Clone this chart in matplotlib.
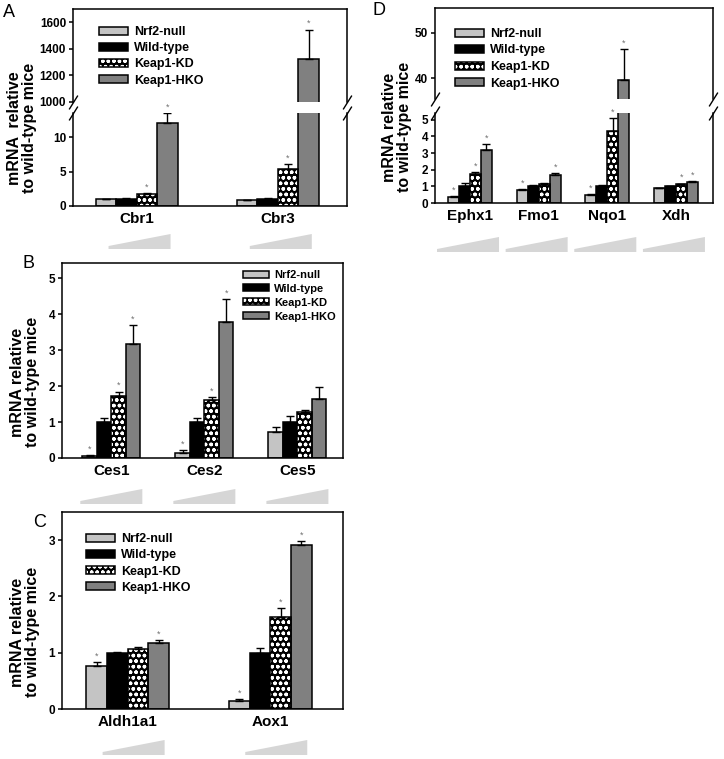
import matplotlib
matplotlib.use("Agg")
import matplotlib.pyplot as plt
import numpy as np
from matplotlib.patches import Patch, Polygon
from matplotlib.transforms import IdentityTransform

plt.rcParams['font.family'] = ['Liberation Sans', 'DejaVu Sans']
plt.rcParams['hatch.linewidth'] = 1.0

# ---------------- data ----------------
series = ['Nrf2-null', 'Wild-type', 'Keap1-KD', 'Keap1-HKO']

genes_A = ['Cbr1', 'Cbr3']
A_nrf2 = [0.98, 0.8];  A_nrf2_err = [0.1, 0.1]
A_wt   = [1.0, 1.0];   A_wt_err   = [0.15, 0.12]
A_kd   = [1.8, 5.4];   A_kd_err   = [0.12, 0.7]
A_hko  = [12.1, 1320]; A_hko_err  = [1.4, 225]
A_sig  = [[0, 0], [0, 0], [1, 1], [1, 1]]

genes_B = ['Ces1', 'Ces2', 'Ces5']
B_nrf2 = [0.05, 0.15, 0.72]; B_nrf2_err = [0.02, 0.07, 0.13]
B_wt   = [1.0, 1.0, 1.0];    B_wt_err   = [0.1, 0.1, 0.17]
B_kd   = [1.72, 1.62, 1.27]; B_kd_err   = [0.13, 0.07, 0.07]
B_hko  = [3.18, 3.8, 1.65];  B_hko_err  = [0.52, 0.62, 0.33]
B_sig  = [[1, 1, 0], [0, 0, 0], [1, 1, 0], [1, 1, 0]]

genes_C = ['Aldh1a1', 'Aox1']
C_nrf2 = [0.77, 0.15]; C_nrf2_err = [0.06, 0.03]
C_wt   = [1.0, 1.0];   C_wt_err   = [0.01, 0.09]
C_kd   = [1.07, 1.63]; C_kd_err   = [0.04, 0.17]
C_hko  = [1.17, 2.91]; C_hko_err  = [0.05, 0.07]
C_sig  = [[1, 1], [0, 0], [0, 1], [1, 1]]

genes_D = ['Ephx1', 'Fmo1', 'Nqo1', 'Xdh']
D_nrf2 = [0.35, 0.8, 0.5, 0.9];    D_nrf2_err = [0.05, 0.04, 0.05, 0.03]
D_wt   = [1.0, 1.05, 1.02, 1.0];   D_wt_err   = [0.2, 0.03, 0.05, 0.03]
D_kd   = [1.75, 1.15, 4.35, 1.12]; D_kd_err   = [0.1, 0.05, 0.75, 0.05]
D_hko  = [3.2, 1.7, 39.7, 1.28];   D_hko_err  = [0.32, 0.1, 6.7, 0.05]
D_sig  = [[1, 1, 1, 0], [0, 0, 0, 0], [1, 0, 1, 1], [1, 1, 1, 1]]

# ---------------- style ----------------
W, H = 724, 759
fig = plt.figure(figsize=(W / 100, H / 100), dpi=100)

face = ['#c4c4c4', '#000000', '#000000', '#808080']
LW = 1.1


def box(l, t, r, b):
    return [l / W, 1 - b / H, (r - l) / W, (b - t) / H]


def style_axis(ax, top=True, bottom=True):
    for s in ax.spines.values():
        s.set_linewidth(LW)
    ax.spines['top'].set_visible(top)
    ax.spines['bottom'].set_visible(bottom)
    ax.tick_params(axis='y', direction='out', length=3, width=LW, pad=2,
                   labelsize=8.5, right=False)
    ax.tick_params(axis='x', length=0)
    for lab in ax.get_yticklabels():
        lab.set_fontweight('bold')


def draw_bars(ax, genes, vals, errs, sigs, width, show_star=True):
    x = np.arange(len(genes))
    offs = (np.arange(4) - 1.5) * width
    for i in range(4):
        xi = x + offs[i]
        if i == 2:
            ax.bar(xi, vals[i], width, color='black', edgecolor='white',
                   hatch='ooo', linewidth=0, zorder=2)
            ax.bar(xi, vals[i], width, color='none', edgecolor='black',
                   linewidth=LW, zorder=3)
        else:
            ax.bar(xi, vals[i], width, color=face[i], edgecolor='black',
                   linewidth=LW, zorder=2)
        ax.errorbar(xi, vals[i], yerr=[np.zeros(len(genes)), errs[i]],
                    fmt='none', ecolor='black', elinewidth=1.0, capsize=3,
                    capthick=1.0, zorder=4)
        if show_star:
            for xx, v, e, s in zip(xi, vals[i], errs[i], sigs[i]):
                if s:
                    ax.annotate('*', (xx, v + e), xytext=(0, 1),
                                textcoords='offset points', ha='center',
                                va='bottom', fontsize=6.5, color='#707070',
                                annotation_clip=True, zorder=5)
    return x


def wedges(ax, ngroups, y_top, y_bot, left_px=-28, right_px=34):
    for c in range(ngroups):
        xc = ax.transData.transform((c, 0))[0]
        x0, x1 = xc + left_px, xc + right_px
        yb = H - y_bot
        yt = H - y_top
        poly = Polygon([(x0, yb), (x0, yb + 3), (x1, yt), (x1, yb)],
                       closed=True, facecolor='#d6d6d6', edgecolor='none',
                       transform=IdentityTransform(), clip_on=False)
        fig.patches.append(poly)


def set_cats(ax, genes, size=11):
    ax.set_xticks(np.arange(len(genes)))
    ax.set_xticklabels(genes, fontsize=size, fontweight='bold')
    ax.tick_params(axis='x', pad=4)


def legend(ax, x_px, y_px, size, spacing):
    handles = [Patch(facecolor=face[0], edgecolor='black', linewidth=LW),
               Patch(facecolor=face[1], edgecolor='black', linewidth=LW),
               (Patch(facecolor='black', edgecolor='white', hatch='ooo', linewidth=0),
                Patch(facecolor='none', edgecolor='black', linewidth=LW)),
               Patch(facecolor=face[3], edgecolor='black', linewidth=LW)]
    leg = ax.legend(handles, series, loc='upper left',
                    bbox_to_anchor=(x_px / W, 1 - y_px / H),
                    bbox_transform=fig.transFigure, frameon=False,
                    handlelength=2.3, handleheight=0.6, labelspacing=spacing,
                    handletextpad=0.5, borderpad=0, borderaxespad=0,
                    prop={'size': size, 'weight': 'bold'})
    return leg


def break_marks(ax, where):
    y = 0 if where == 'bottom' else 1
    ax.plot([0, 1], [y, y], transform=ax.transAxes, linestyle='none',
            marker=[(-1, -1.6), (1, 1.6)], markersize=10, color='black',
            mec='black', mew=1.0, clip_on=False, zorder=10)


def ylab(text, x_px, y_px):
    fig.text(x_px / W, 1 - y_px / H, text, rotation=90, ha='center',
             va='center', fontsize=11.5, fontweight='bold', linespacing=1.05)


# ---------------- Panel A ----------------
wA = 0.145
axA_up = fig.add_axes(box(73, 9, 347, 102))
axA_lo = fig.add_axes(box(73, 113, 347, 206))
for ax, lims in ((axA_up, (1000, 1700)), (axA_lo, (0, 13.5))):
    draw_bars(ax, genes_A, [A_nrf2, A_wt, A_kd, A_hko],
              [A_nrf2_err, A_wt_err, A_kd_err, A_hko_err], A_sig, wA)
    ax.set_xlim(-0.45, 1.49)
    ax.set_ylim(*lims)
axA_up.set_yticks([1000, 1200, 1400, 1600])
axA_lo.set_yticks([0, 5, 10])
axA_up.set_xticks([])
set_cats(axA_lo, genes_A)
style_axis(axA_up, top=True, bottom=False)
style_axis(axA_lo, top=False, bottom=True)
break_marks(axA_up, 'bottom')
break_marks(axA_lo, 'top')
legend(axA_up, 99, 26, 9, 0.34)
wedges(axA_lo, 2, 234, 249)
ylab('mRNA  relative\nto wild-type mice', 22, 128)
fig.text(3 / W, 1 - 4 / H, 'A', fontsize=13, va='top', ha='left')

# ---------------- Panel D ----------------
wD = 0.16
axD_up = fig.add_axes(box(435, 8, 713, 99))
axD_lo = fig.add_axes(box(435, 113, 713, 203))
for ax, lims in ((axD_up, (35.5, 55.4)), (axD_lo, (0, 5.4))):
    draw_bars(ax, genes_D, [D_nrf2, D_wt, D_kd, D_hko],
              [D_nrf2_err, D_wt_err, D_kd_err, D_hko_err], D_sig, wD)
    ax.set_xlim(-0.51, 3.54)
    ax.set_ylim(*lims)
axD_up.set_yticks([40, 50])
axD_lo.set_yticks([0, 1, 2, 3, 4, 5])
axD_up.set_xticks([])
set_cats(axD_lo, genes_D)
style_axis(axD_up, top=True, bottom=False)
style_axis(axD_lo, top=False, bottom=True)
break_marks(axD_up, 'bottom')
break_marks(axD_lo, 'top')
legend(axD_up, 455, 28, 9, 0.36)
wedges(axD_lo, 4, 237, 252, left_px=-33, right_px=29)
ylab('mRNA relative\nto wild-type mice', 397, 127)
fig.text(372 / W, 1 - 2 / H, 'D', fontsize=13, va='top', ha='left')

# ---------------- Panel B ----------------
wB = 0.156
axB = fig.add_axes(box(62, 263, 343, 458))
draw_bars(axB, genes_B, [B_nrf2, B_wt, B_kd, B_hko],
          [B_nrf2_err, B_wt_err, B_kd_err, B_hko_err], B_sig, wB)
axB.set_xlim(-0.53, 2.49)
axB.set_ylim(0, 5.43)
axB.set_yticks([0, 1, 2, 3, 4, 5])
set_cats(axB, genes_B)
style_axis(axB)
legend(axB, 243, 270, 8, 0.35)
wedges(axB, 3, 489, 504, left_px=-31, right_px=31)
ylab('mRNA relative\nto wild-type mice', 25, 382)
fig.text(23 / W, 1 - 255 / H, 'B', fontsize=13, va='top', ha='left')

# ---------------- Panel C ----------------
wC = 0.145
axC = fig.add_axes(box(62, 512, 343, 709))
draw_bars(axC, genes_C, [C_nrf2, C_wt, C_kd, C_hko],
          [C_nrf2_err, C_wt_err, C_kd_err, C_hko_err], C_sig, wC)
axC.set_xlim(-0.46, 1.51)
axC.set_ylim(0, 3.5)
axC.set_yticks([0, 1, 2, 3])
set_cats(axC, genes_C)
style_axis(axC)
legend(axC, 86, 533, 9, 0.34)
wedges(axC, 2, 740, 755, left_px=-25, right_px=37)
ylab('mRNA relative\nto wild-type mice', 25, 632)
fig.text(33 / W, 1 - 514 / H, 'C', fontsize=13, va='top', ha='left')

fig.savefig('out.png', dpi=100)
